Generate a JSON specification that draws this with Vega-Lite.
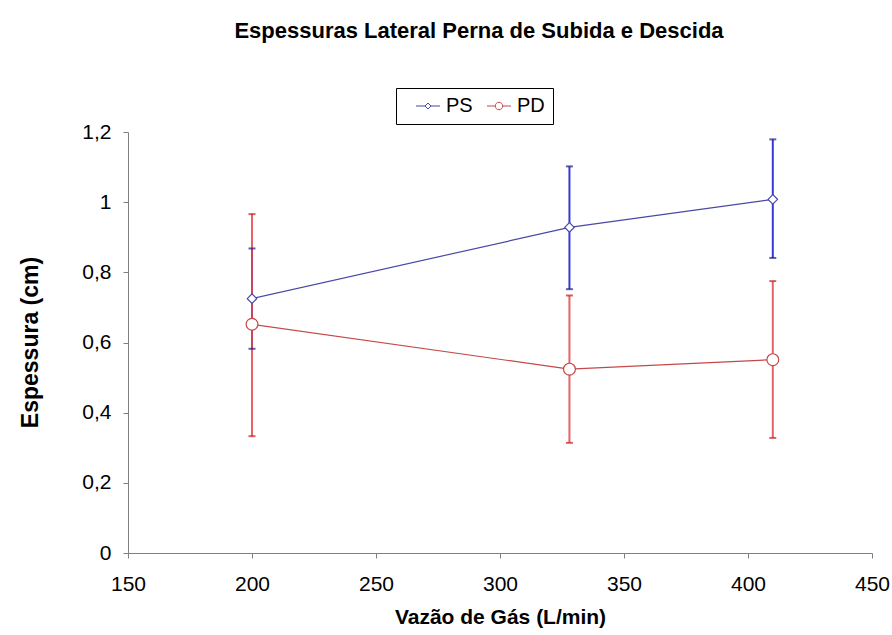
{
  "$schema": "https://vega.github.io/schema/vega-lite/v6.json",
  "width": 744,
  "height": 421,
  "autosize": "none",
  "padding": {"left": 128, "top": 132, "right": 20, "bottom": 82},
  "background": "white",
  "title": {
    "text": "Espessuras Lateral Perna de Subida e Descida",
    "font": "Liberation Sans",
    "fontSize": 22,
    "fontWeight": "bold",
    "color": "#000000",
    "anchor": "middle",
    "dx": -21,
    "baseline": "alphabetic",
    "offset": 28
  },
  "config": {
    "view": {"stroke": null},
    "font": "Liberation Sans",
    "axis": {
      "grid": false,
      "domainColor": "#808080",
      "tickColor": "#808080",
      "tickSize": 5,
      "labelFlush": false,
      "labelOverlap": false,
      "labelFont": "Liberation Sans",
      "labelFontSize": 21,
      "labelColor": "#000000",
      "titleFont": "Liberation Sans",
      "titleFontWeight": "bold",
      "titleColor": "#000000"
    }
  },
  "resolve": {
    "scale": {"color": "independent", "shape": "independent", "size": "independent"},
    "legend": {"color": "independent", "shape": "independent", "size": "independent"}
  },
  "data": {
    "values": [
      {"series": "PS", "vazao": 200, "esp": 0.725, "lo": 0.582, "hi": 0.868},
      {"series": "PS", "vazao": 328, "esp": 0.928, "lo": 0.752, "hi": 1.102},
      {"series": "PS", "vazao": 410, "esp": 1.008, "lo": 0.841, "hi": 1.179},
      {"series": "PD", "vazao": 200, "esp": 0.652, "lo": 0.333, "hi": 0.966},
      {"series": "PD", "vazao": 328, "esp": 0.524, "lo": 0.314, "hi": 0.734},
      {"series": "PD", "vazao": 410, "esp": 0.551, "lo": 0.328, "hi": 0.775}
    ]
  },
  "encoding": {
    "x": {
      "field": "vazao",
      "type": "quantitative",
      "scale": {"domain": [150, 450], "nice": false, "zero": false},
      "axis": {
        "values": [150, 200, 250, 300, 350, 400, 450],
        "title": "Vazão de Gás (L/min)",
        "titleFontSize": 21,
        "labelPadding": 15,
        "titleY": 70,
        "titleBaseline": "alphabetic"
      }
    }
  },
  "layer": [
    {
      "mark": {"type": "line", "strokeWidth": 1.2},
      "encoding": {
        "y": {
          "field": "esp",
          "type": "quantitative",
          "scale": {"domain": [0, 1.2], "nice": false},
          "axis": {
            "values": [0, 0.2, 0.4, 0.6, 0.8, 1, 1.2],
            "labelExpr": "replace(format(datum.value, '.1~f'), '.', ',')",
            "title": "Espessura (cm)",
            "titleFontSize": 23,
            "labelPadding": 12,
            "titleX": -91,
            "titleY": 210,
            "titleAngle": -90,
            "titleAlign": "center",
            "titleBaseline": "alphabetic"
          }
        },
        "color": {
          "field": "series",
          "type": "nominal",
          "scale": {"domain": ["PS", "PD"], "range": ["#4848A6", "#C44848"]},
          "legend": null
        },
        "detail": {"field": "series"}
      }
    },
    {
      "mark": {"type": "rule", "strokeWidth": 2},
      "encoding": {
        "y": {"field": "lo", "type": "quantitative"},
        "y2": {"field": "hi"},
        "color": {
          "field": "series",
          "type": "nominal",
          "scale": {"domain": ["PS", "PD"], "range": ["#3838D8", "#E2474A"]},
          "legend": null
        },
        "opacity": {
          "field": "series",
          "type": "nominal",
          "scale": {"domain": ["PS", "PD"], "range": [1, 0.85]},
          "legend": null
        }
      }
    },
    {
      "mark": {"type": "tick", "orient": "horizontal", "size": 7, "thickness": 2},
      "encoding": {
        "y": {"field": "lo", "type": "quantitative"},
        "color": {
          "field": "series",
          "type": "nominal",
          "scale": {"domain": ["PS", "PD"], "range": ["#1E1E80", "#C82020"]},
          "legend": null
        }
      }
    },
    {
      "mark": {"type": "tick", "orient": "horizontal", "size": 7, "thickness": 2},
      "encoding": {
        "y": {"field": "hi", "type": "quantitative"},
        "color": {
          "field": "series",
          "type": "nominal",
          "scale": {"domain": ["PS", "PD"], "range": ["#1E1E80", "#C82020"]},
          "legend": null
        }
      }
    },
    {
      "mark": {"type": "point", "filled": true, "strokeWidth": 1.2, "opacity": 1, "fill": "white"},
      "encoding": {
        "y": {"field": "esp", "type": "quantitative"},
        "stroke": {
          "field": "series",
          "type": "nominal",
          "scale": {"domain": ["PS", "PD"], "range": ["#4848A6", "#C44848"]},
          "legend": null
        },
        "shape": {
          "field": "series",
          "type": "nominal",
          "scale": {"domain": ["PS", "PD"], "range": ["diamond", "circle"]},
          "legend": null
        },
        "size": {
          "field": "series",
          "type": "nominal",
          "scale": {"type": "ordinal", "domain": ["PS", "PD"], "range": [90, 140]},
          "legend": null
        }
      }
    },
    {
      "mark": {"type": "point", "filled": false, "opacity": 0, "strokeWidth": 1},
      "encoding": {
        "y": {"field": "esp", "type": "quantitative"},
        "color": {
          "field": "series",
          "type": "nominal",
          "scale": {"domain": ["PS", "PD"], "range": ["#4848A6", "#C44848"]},
          "legend": {
            "title": null,
            "orient": "none",
            "legendX": 268,
            "legendY": -44,
            "direction": "horizontal",
            "columns": 2,
            "columnPadding": 2,
            "padding": 8,
            "strokeColor": "#000000",
            "fillColor": "white",
            "labelFont": "Liberation Sans",
            "labelFontSize": 20,
            "labelColor": "#000000",
            "labelOffset": 8,
            "symbolOffset": 14,
            "symbolSize": 144,
            "symbolOpacity": 1,
            "symbolStrokeWidth": 1
          }
        },
        "shape": {
          "field": "series",
          "type": "nominal",
          "scale": {
            "domain": ["PS", "PD"],
            "range": [
              "M-2,0H-0.5M0.5,0H2M0,-0.5L0.5,0L0,0.5L-0.5,0Z",
              "M-2,0H-0.62M0.62,0H2M-0.62,0A0.62,0.62 0 1,0 0.62,0A0.62,0.62 0 1,0 -0.62,0Z"
            ]
          },
          "legend": {
            "title": null,
            "orient": "none",
            "legendX": 268,
            "legendY": -44,
            "direction": "horizontal",
            "columns": 2,
            "columnPadding": 2,
            "padding": 8,
            "strokeColor": "#000000",
            "fillColor": "white",
            "labelFont": "Liberation Sans",
            "labelFontSize": 20,
            "labelColor": "#000000",
            "labelOffset": 8,
            "symbolOffset": 14,
            "symbolSize": 144,
            "symbolOpacity": 1,
            "symbolStrokeWidth": 1
          }
        }
      }
    }
  ]
}
